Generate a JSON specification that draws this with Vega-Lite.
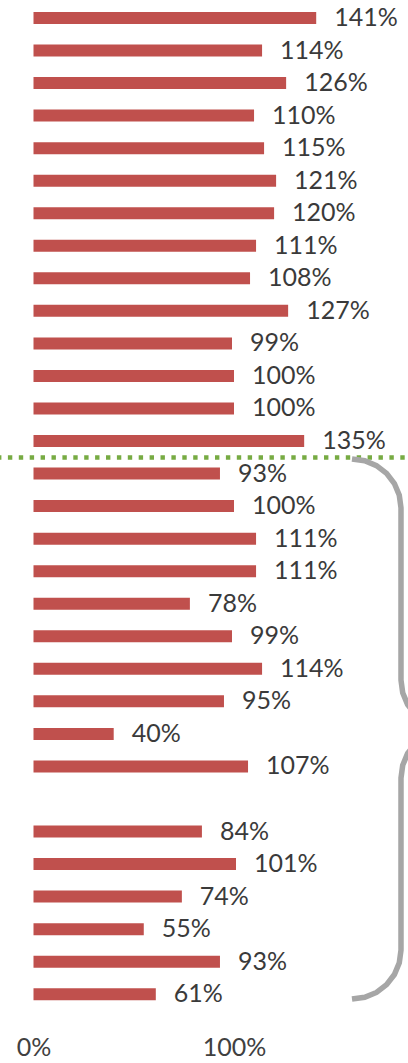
{
  "$schema": "https://vega.github.io/schema/vega-lite/v6.json",
  "width": 408,
  "height": 1063,
  "autosize": "none",
  "padding": 0,
  "background": "white",
  "config": {"view": {"stroke": null}, "font": "Lato", "scale": {"continuousPadding": 0}},
  "datasets": {
    "bars": [
      {"rank": 1, "v": 1.41}, {"rank": 2, "v": 1.14}, {"rank": 3, "v": 1.26}, {"rank": 4, "v": 1.10},
      {"rank": 5, "v": 1.15}, {"rank": 6, "v": 1.21}, {"rank": 7, "v": 1.20}, {"rank": 8, "v": 1.11},
      {"rank": 9, "v": 1.08}, {"rank": 10, "v": 1.27}, {"rank": 11, "v": 0.99}, {"rank": 12, "v": 1.00},
      {"rank": 13, "v": 1.00}, {"rank": 14, "v": 1.35}, {"rank": 15, "v": 0.93}, {"rank": 16, "v": 1.00},
      {"rank": 17, "v": 1.11}, {"rank": 18, "v": 1.11}, {"rank": 19, "v": 0.78}, {"rank": 20, "v": 0.99},
      {"rank": 21, "v": 1.14}, {"rank": 22, "v": 0.95}, {"rank": 23, "v": 0.40}, {"rank": 24, "v": 1.07},
      {"rank": 26, "v": 0.84}, {"rank": 27, "v": 1.01}, {"rank": 28, "v": 0.74}, {"rank": 29, "v": 0.55},
      {"rank": 30, "v": 0.93}, {"rank": 31, "v": 0.61}
    ],
    "brace": [
      {"k": 1, "bx": 1.5885, "by": 14.553}, {"k": 2, "bx": 1.6519, "by": 14.605},
      {"k": 3, "bx": 1.7107, "by": 14.755}, {"k": 4, "bx": 1.7611, "by": 14.995},
      {"k": 5, "bx": 1.8000, "by": 15.306}, {"k": 6, "bx": 1.8244, "by": 15.668},
      {"k": 7, "bx": 1.8329, "by": 16.058}, {"k": 8, "bx": 1.8329, "by": 21.344},
      {"k": 9, "bx": 1.8414, "by": 21.734}, {"k": 10, "bx": 1.8658, "by": 22.097},
      {"k": 11, "bx": 1.9047, "by": 22.408}, {"k": 12, "bx": 1.9551, "by": 22.647},
      {"k": 13, "bx": 2.0140, "by": 22.798}, {"k": 14, "bx": 2.0773, "by": 22.850},
      {"k": 15, "bx": 2.0140, "by": 22.902}, {"k": 16, "bx": 1.9551, "by": 23.053},
      {"k": 17, "bx": 1.9047, "by": 23.293}, {"k": 18, "bx": 1.8658, "by": 23.603},
      {"k": 19, "bx": 1.8414, "by": 23.965}, {"k": 20, "bx": 1.8329, "by": 24.356},
      {"k": 21, "bx": 1.8329, "by": 29.642}, {"k": 22, "bx": 1.8244, "by": 30.032},
      {"k": 23, "bx": 1.8000, "by": 30.395}, {"k": 24, "bx": 1.7611, "by": 30.705},
      {"k": 25, "bx": 1.7107, "by": 30.945}, {"k": 26, "bx": 1.6519, "by": 31.095},
      {"k": 27, "bx": 1.5885, "by": 31.147}
    ]
  },
  "layer": [
    {
      "data": {"name": "bars"},
      "mark": {"type": "bar", "orient": "horizontal", "size": 12, "color": "#C0504D"},
      "encoding": {
        "x": {"field": "v", "type": "quantitative",
              "scale": {"domain": [-0.16708, 1.86783], "nice": false, "zero": false, "padding": 0},
              "axis": {"values": [0, 1], "format": ".0%", "domain": false, "ticks": false, "grid": false,
                       "title": null, "labelFont": "Lato", "labelFontSize": 25, "labelColor": "#404040",
                       "offset": -33, "labelBaseline": "middle", "labelPadding": 17.5, "labelFlush": false, "labelOverlap": false}},
        "y": {"field": "rank", "type": "quantitative",
              "scale": {"domain": [0.4468, 33.114], "nice": false, "zero": false, "reverse": true, "padding": 0},
              "axis": null}
      }
    },
    {
      "data": {"name": "bars"},
      "mark": {"type": "text", "align": "left", "baseline": "middle", "dx": 18, "fontSize": 25,
               "font": "Lato", "color": "#3A3A3A"},
      "encoding": {
        "x": {"field": "v", "type": "quantitative", "scale": {"domain": [-0.16708, 1.86783], "nice": false, "zero": false, "padding": 0}},
        "y": {"field": "rank", "type": "quantitative", "scale": {"domain": [0.4468, 33.114], "nice": false, "zero": false, "reverse": true, "padding": 0}},
        "text": {"field": "v", "type": "quantitative", "format": ".0%"}
      }
    },
    {
      "data": {"values": [{}]},
      "mark": {"type": "rule", "color": "#77AB43", "strokeWidth": 4.5, "strokeDash": [4.4, 6.5], "strokeDashOffset": 7.6},
      "encoding": {
        "y": {"datum": 14.506, "type": "quantitative", "scale": {"domain": [0.4468, 33.114], "nice": false, "zero": false, "reverse": true, "padding": 0}}
      }
    },
    {
      "data": {"name": "brace"},
      "mark": {"type": "line", "color": "#A6A6A6", "strokeWidth": 5.5, "strokeCap": "butt"},
      "encoding": {
        "x": {"field": "bx", "type": "quantitative", "scale": {"domain": [-0.16708, 1.86783], "nice": false, "zero": false, "padding": 0}},
        "y": {"field": "by", "type": "quantitative", "scale": {"domain": [0.4468, 33.114], "nice": false, "zero": false, "reverse": true, "padding": 0}},
        "order": {"field": "k", "type": "quantitative"}
      }
    }
  ]
}
